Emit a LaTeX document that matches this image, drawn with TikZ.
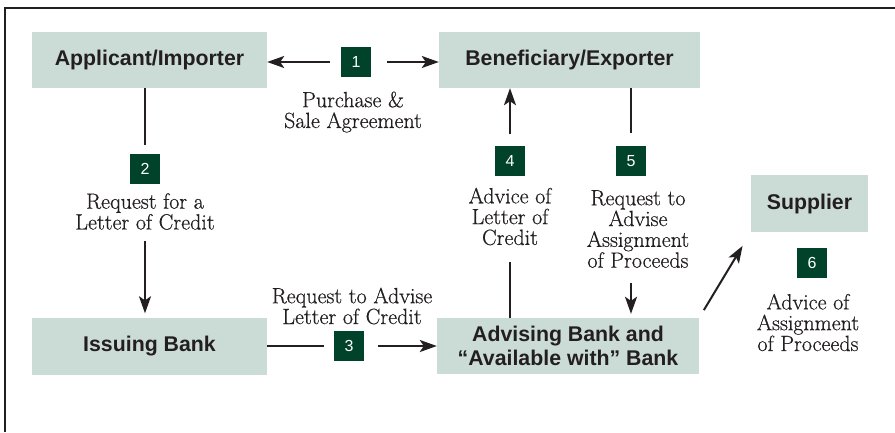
\documentclass[tikz,border=0pt]{standalone}
\usepackage{fontspec}
\setsansfont{Liberation Sans}
\newfontfamily\notefont[FakeBold=0.6]{Latin Modern Roman}
\usetikzlibrary{arrows.meta}

\definecolor{boxfill}{RGB}{203,219,213}
\definecolor{stepgreen}{RGB}{0,67,42}
\definecolor{inkgrey}{RGB}{35,31,32}

\tikzset{
  party/.style={fill=boxfill, inner sep=0pt, align=center, text=inkgrey,
    font=\sffamily\bfseries\fontsize{21.3}{24}\selectfont},
  stepno/.style={fill=stepgreen, text=white, minimum size=30pt, inner sep=0pt,
    font=\sffamily\fontsize{16}{16}\selectfont},
  note/.style={align=center, inner sep=0pt, text=inkgrey,
    font=\notefont\fontsize{22}{20.8}\selectfont},
  flow/.style={line width=2pt, draw=inkgrey},
  flowarr/.style={flow, -{Stealth[length=17pt,width=12pt,inset=4pt]}},
}

\begin{document}
\begin{tikzpicture}[x=1pt,y=-1pt]
        \useasboundingbox (0,0) rectangle (895,432);

        % Frame
        \draw[line width=2pt, inkgrey] (5,432) -- (5,8) -- (895,8);

        % Parties
        \node[party, minimum width=235pt, minimum height=56pt] (app) at (149.5,60) {Applicant/Importer};
        \node[party, minimum width=261pt, minimum height=56pt] (ben) at (569.5,60) {Beneficiary/Exporter};
        \node[party, minimum width=235pt, minimum height=57pt] (iss) at (149.5,346) {Issuing Bank};
        \node[party, minimum width=262pt, minimum height=56pt] (adv) at (568,346) {Advising Bank and\\``Available with'' Bank};
        \node[party, minimum width=117pt, minimum height=57pt] (sup) at (809.5,203.5) {Supplier};

        % Steps
        \node[stepno] (n1) at (356,62) {1};
        \node[stepno] (n2) at (145,169) {2};
        \node[stepno] (n3) at (349,346) {3};
        \node[stepno] (n4) at (510,161) {4};
        \node[stepno] (n5) at (631,161) {5};
        \node[stepno] (n6) at (812,263) {6};

        % Step texts
        \node[note] (lbl1) at (353,112) {Purchase \&\\Sale Agreement};
        \node[note] (lbl2) at (145,211.5) {Request for a\\Letter of Credit};
        \node[note] (lbl3) at (352,306) {Request to Advise\\Letter of Credit};
        \node[note] (lbl4) at (510,216.5) {Advice of\\Letter of\\Credit};
        \node[note] (lbl5) at (638,229) {Request to\\Advise\\Assignment\\of Proceeds};
        \node[note] (lbl6) at (808,322.5) {Advice of\\Assignment\\of Proceeds};

        % Flows
        \draw[flowarr, shorten <=11pt] (n1.west) -- (n1 -| app.east);
        \draw[flowarr, shorten <=16pt] (n1.east) -- (n1 -| ben.west);
        \draw[flow, shorten >=9pt] (n2 |- app.south) -- (n2.north);
        \draw[flowarr, shorten <=11pt, shorten >=4pt] (n2 |- lbl2.south) -- (n2 |- iss.north);
        \draw[flow, shorten >=10pt] (iss.east) -- (n3.west);
        \draw[flowarr, shorten <=14pt] (n3.east) -- (adv.west);
        \draw[flow, shorten >=17pt] (adv.north -| n4) -- (n4 |- lbl4.south);
        \draw[flowarr, shorten <=12pt] (n4.north) -- (n4 |- ben.south);
        \draw[flow, shorten >=13pt] (ben.south -| n5) -- (n5.north);
        \draw[flowarr, shorten <=15pt, shorten >=4pt] (n5 |- lbl5.south) -- (n5 |- adv.north);
        \draw[flowarr, shorten <=9pt, shorten >=16pt] (adv.north east) -- (sup.south west);

\end{tikzpicture}
\end{document}
